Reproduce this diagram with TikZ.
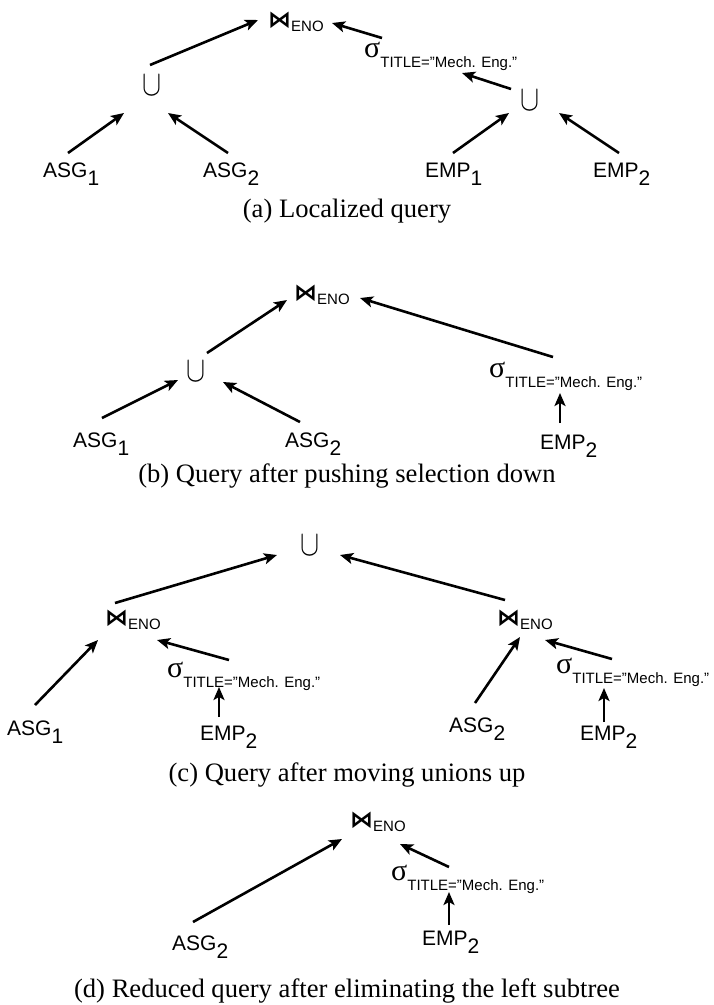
\documentclass[tikz,border=0pt]{standalone}
\usepackage{fontspec}
\setmainfont{Liberation Serif}
\newfontfamily\arialfont{Liberation Sans}
\newfontfamily\dejafont{DejaVu Sans}
\usepackage{tikz}
\usetikzlibrary{arrows.meta}
\tikzset{
  leaf/.style={
    inner sep=0pt,
    anchor=base west,
    font=\arialfont\fontsize{21}{24}\selectfont
  },
  opnode/.style={
    inner sep=0pt,
    anchor=base west
  },
  unionnode/.style={
    inner sep=0pt,
    anchor=center
  },
  captext/.style={
    inner sep=0pt,
    anchor=base,
    font=\fontsize{26.6}{30}\selectfont
  },
  flow/.style={
    line width=2.6pt,
    -{Stealth[length=13pt,width=11pt,inset=3pt]}
  }
}
\newcommand{\rel}[2]{#1\raisebox{-8pt}{#2}}
\newcommand{\unionop}{\resizebox{19pt}{20pt}{$\cup$}}
\newcommand{\joinENO}{{\dejafont\bfseries\fontsize{23}{24}\selectfont ⋈}\raisebox{-4pt}{\arialfont\fontsize{15}{18}\selectfont ENO}}
\newcommand{\selTITLE}{{\fontsize{30}{30}\selectfont σ}\raisebox{-10pt}{\arialfont\fontsize{15}{18}\selectfont TITLE=”Mech. Eng.”}}

\begin{document}
\begin{tikzpicture}[x=1pt,y=-1pt]
  \useasboundingbox (0,0) rectangle (714,1005);

  % (a) Localized query
  \node[opnode] (joinA) at (268,27) {\joinENO};
  \node[opnode] (selA) at (364,57) {\selTITLE};
  \node[unionnode] (uA1) at (152,85) {\unionop};
  \node[unionnode] (uA2) at (530,100) {\unionop};
  \node[leaf] (asgA1) at (43,177) {\rel{ASG}{1}};
  \node[leaf] (asgA2) at (203,177) {\rel{ASG}{2}};
  \node[leaf] (empA1) at (425,177) {\rel{EMP}{1}};
  \node[leaf] (empA2) at (593,177) {\rel{EMP}{2}};
  \node[captext] (capA) at (347,217) {(a) Localized query};

  \draw[flow] ([shift={(25,-24)}]asgA1.base west) -- ([shift={(-28,28)}]uA1.center);
  \draw[flow] ([shift={(25,-24)}]asgA2.base west) -- ([shift={(16,28)}]uA1.center);
  \draw[flow] ([shift={(28,-24)}]empA1.base west) -- ([shift={(-21,13)}]uA2.center);
  \draw[flow] ([shift={(26,-24)}]empA2.base west) -- ([shift={(29,13)}]uA2.center);
  \draw[flow] ([shift={(-2,-20)}]uA1.center) -- ([shift={(-10,-7)}]joinA.base west);
  \draw[flow] ([shift={(-19,-11)}]uA2.center) -- ([shift={(98,16)}]selA.base west);
  \draw[flow] ([shift={(18,-19)}]selA.base west) -- ([shift={(64,-4)}]joinA.base west);

  % (b) Query after pushing selection down
  \node[opnode] (joinB) at (294,300) {\joinENO};
  \node[unionnode] (uB) at (196,371) {\unionop};
  \node[opnode] (selB) at (489,377) {\selTITLE};
  \node[leaf] (asgB1) at (73,447) {\rel{ASG}{1}};
  \node[leaf] (asgB2) at (285,447) {\rel{ASG}{2}};
  \node[leaf] (empB2) at (540,449) {\rel{EMP}{2}};
  \node[captext] (capB) at (347,482) {(b) Query after pushing selection down};

  \draw[flow] ([shift={(29,-29)}]asgB1.base west) -- ([shift={(-18,9)}]uB.center);
  \draw[flow] ([shift={(15,-25)}]asgB2.base west) -- ([shift={(27,11)}]uB.center);
  \draw[flow] ([shift={(20,-26)}]empB2.base west) -- ([shift={(71,16)}]selB.base west);
  \draw[flow] ([shift={(11,-18)}]uB.center) -- ([shift={(-7,0)}]joinB.base west);
  \draw[flow] ([shift={(64,-20)}]selB.base west) -- ([shift={(66,-2)}]joinB.base west);

  % (c) Query after moving unions up
  \node[unionnode] (uC) at (310,545) {\unionop};
  \node[opnode] (joinC1) at (105,625) {\joinENO};
  \node[opnode] (joinC2) at (497,625) {\joinENO};
  \node[opnode] (selC1) at (167,677) {\selTITLE};
  \node[opnode] (selC2) at (556,673) {\selTITLE};
  \node[leaf] (asgC1) at (7,735) {\rel{ASG}{1}};
  \node[leaf] (empC1) at (200,740) {\rel{EMP}{2}};
  \node[leaf] (asgC2) at (449,732) {\rel{ASG}{2}};
  \node[leaf] (empC2) at (580,740) {\rel{EMP}{2}};
  \node[captext] (capC) at (347,781) {(c) Query after moving unions up};

  \draw[flow] ([shift={(10,-22)}]joinC1.base west) -- ([shift={(-33,10)}]uC.center);
  \draw[flow] ([shift={(8,-25)}]joinC2.base west) -- ([shift={(30,10)}]uC.center);
  \draw[flow] ([shift={(28,-30)}]asgC1.base west) -- ([shift={(-7,15)}]joinC1.base west);
  \draw[flow] ([shift={(62,-17)}]selC1.base west) -- ([shift={(52,15)}]joinC1.base west);
  \draw[flow] ([shift={(19,-23)}]empC1.base west) -- ([shift={(52,10)}]selC1.base west);
  \draw[flow] ([shift={(26,-29)}]asgC2.base west) -- ([shift={(23,12)}]joinC2.base west);
  \draw[flow] ([shift={(56,-14)}]selC2.base west) -- ([shift={(48,15)}]joinC2.base west);
  \draw[flow] ([shift={(24,-18)}]empC2.base west) -- ([shift={(48,15)}]selC2.base west);

  % (d) Reduced query
  \node[opnode] (joinD) at (350,827) {\joinENO};
  \node[opnode] (selD) at (391,880) {\selTITLE};
  \node[leaf] (asgD2) at (172,950) {\rel{ASG}{2}};
  \node[leaf] (empD2) at (422,945) {\rel{EMP}{2}};
  \node[captext] (capD) at (347,997) {(d) Reduced query after eliminating the left subtree};

  \draw[flow] ([shift={(21,-28)}]asgD2.base west) -- ([shift={(-8,12)}]joinD.base west);
  \draw[flow] ([shift={(58,-13)}]selD.base west) -- ([shift={(50,17)}]joinD.base west);
  \draw[flow] ([shift={(27,-20)}]empD2.base west) -- ([shift={(58,12)}]selD.base west);
\end{tikzpicture}
\end{document}
